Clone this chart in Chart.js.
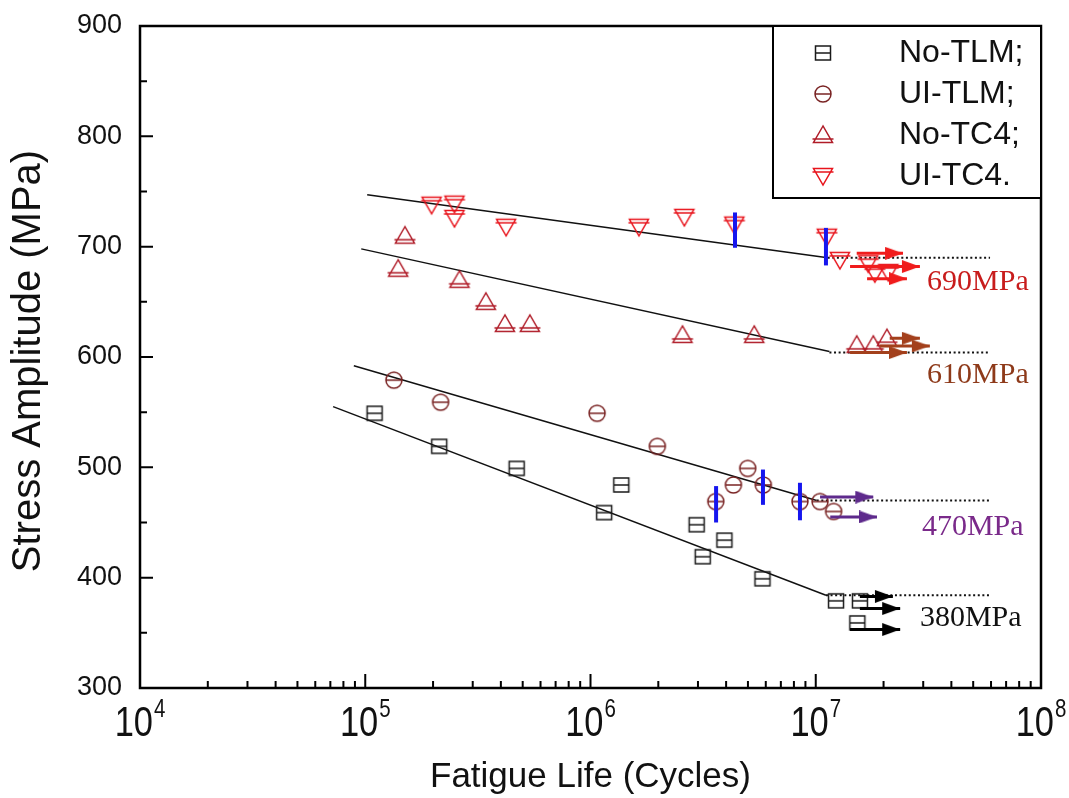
<!DOCTYPE html>
<html>
<head>
<meta charset="utf-8">
<script src="https://cdn.jsdelivr.net/npm/chart.js@4/dist/chart.umd.min.js"></script>
<style>
  html, body { margin: 0; padding: 0; background: #fff; }
  canvas { display: block; }
</style>
</head>
<body>
<canvas id="snChart" width="1069" height="798"></canvas>
<script>
// S-N data (life in cycles, stress amplitude in MPa)
const seriesNames = ['No-TLM;', 'UI-TLM;', 'No-TC4;', 'UI-TC4.'];

const noTlmLife   = [1.1e5, 2.13e5, 4.7e5, 1.15e6, 1.37e6, 2.96e6, 3.15e6, 3.93e6, 5.8e6, 1.23e7, 1.57e7, 1.53e7];
const noTlmStress = [549, 519, 499, 459, 484, 448, 419, 434, 399, 379, 379, 359];

const uiTlmLife   = [1.34e5, 2.16e5, 1.07e6, 1.98e6, 3.6e6, 4.31e6, 4.99e6, 5.85e6, 8.51e6, 1.045e7, 1.2e7];
const uiTlmStress = [579, 559, 549, 519, 469, 484, 499, 484, 469, 469, 460];

const noTc4Life   = [1.5e5, 1.4e5, 2.62e5, 3.43e5, 4.17e5, 5.38e5, 2.56e6, 5.33e6, 1.52e7, 1.8e7, 2.07e7];
const noTc4Stress = [710, 680, 670, 650, 630, 630, 620, 620, 611, 611, 617];

const uiTc4Life   = [1.97e5, 2.49e5, 2.49e5, 4.22e5, 1.64e6, 2.61e6, 4.35e6, 1.12e7, 1.28e7, 1.71e7, 1.83e7, 2.1e7];
const uiTc4Stress = [738, 739, 726, 718, 718, 727, 720, 709, 688, 685, 676, 677];

// fitted lines: [startLife, startStress, endLife, endStress]
const fitNoTlm = [7.2e4, 555, 1.11e7, 384];
const fitUiTlm = [8.9e4, 592, 1.01e7, 470];
const fitNoTc4 = [9.6e4, 698, 1.15e7, 605];
const fitUiTc4 = [1.02e5, 747, 1.13e7, 690];

// fatigue limit extensions (dotted): [fromLife, toLife, stress]
const limitLines = [[1.11e7, 5.94e7, 384], [1.01e7, 5.94e7, 470], [1.15e7, 5.94e7, 604], [1.13e7, 5.94e7, 690]];

// run-out arrows: [fromLife, toLife, stress]
const arrows690 = [[1.52e7, 2.44e7, 694], [1.42e7, 2.9e7, 682], [1.69e7, 2.54e7, 671]];
const arrows610 = [[2.13e7, 2.9e7, 617], [1.93e7, 3.21e7, 610], [1.42e7, 2.54e7, 604]];
const arrows470 = [[1.045e7, 1.8e7, 473], [1.16e7, 1.87e7, 455]];
const arrows380 = [[1.57e7, 2.2e7, 383], [1.57e7, 2.37e7, 372], [1.42e7, 2.37e7, 353]];

// blue marks: [life, lowStress, highStress]
const blueBars = [[4.38e6, 699, 731], [1.11e7, 683, 717], [3.61e6, 450, 483], [5.83e6, 466, 498], [8.51e6, 452, 486]];

const limitLabels = ['690MPa', '610MPa', '470MPa', '380MPa'];
const limitLabelLife = [3.12e7, 3.12e7, 2.96e7, 2.9e7];
const limitLabelStress = [668, 584, 446, 363];

const xTickExps = [4, 5, 6, 7, 8];
const yMajor = [300, 400, 500, 600, 700, 800, 900];
const yMinor = [350, 450, 550, 650, 750, 850];

const SANS = '"Liberation Sans", Arial, sans-serif';
const SERIF = '"Liberation Serif", "Times New Roman", serif';

function makeMarker(kind, color) {
  const c = document.createElement('canvas');
  c.width = 24; c.height = 24;
  const g = c.getContext('2d');
  g.strokeStyle = color;
  g.lineWidth = 1.5;
  g.beginPath();
  if (kind === 'square') {
    g.rect(4.5, 5, 15, 14);
    g.moveTo(4.5, 12); g.lineTo(19.5, 12);
  } else if (kind === 'circle') {
    g.arc(12, 12, 8, 0, Math.PI * 2);
    g.moveTo(4, 12); g.lineTo(20, 12);
  } else if (kind === 'up') {
    g.moveTo(12, 3); g.lineTo(2.5, 19.5); g.lineTo(21.5, 19.5); g.closePath();
    g.moveTo(1.5, 16); g.lineTo(22.5, 16);
  } else {
    g.moveTo(2.5, 4.5); g.lineTo(21.5, 4.5); g.lineTo(12, 21); g.closePath();
    g.moveTo(1.5, 8); g.lineTo(22.5, 8);
  }
  g.stroke();
  return c;
}

function makeHead(color) {
  // tip sits at the canvas centre so it lands on the data point
  const c = document.createElement('canvas');
  c.width = 38; c.height = 13;
  const g = c.getContext('2d');
  g.fillStyle = color;
  g.beginPath();
  g.moveTo(1, 0); g.lineTo(19, 6.5); g.lineTo(1, 13); g.closePath();
  g.fill();
  return c;
}

const markerColors = ['#1a1a1a', '#7a2424', '#b01c28', '#e8141c'];
const markers = [
  makeMarker('square', markerColors[0]),
  makeMarker('circle', markerColors[1]),
  makeMarker('up', markerColors[2]),
  makeMarker('down', markerColors[3])
];

function pts(xs, ys) {
  return xs.map((x, i) => ({ x, y: ys[i] }));
}

const datasets = [];

blueBars.forEach(b => {
  datasets.push({
    data: [{ x: b[0], y: b[1] }, { x: b[0], y: b[2] }],
    showLine: true, borderColor: '#1616ee', borderWidth: 4,
    pointRadius: 0, order: 0
  });
});

function addArrows(list, color) {
  const head = makeHead(color);
  list.forEach(a => {
    datasets.push({
      data: [{ x: a[0], y: a[2] }, { x: a[1], y: a[2] }],
      showLine: true, borderColor: color, borderWidth: 3,
      pointStyle: head, pointRadius: [0, 2], order: 1
    });
  });
}
addArrows(arrows690, '#f01c1c');
addArrows(arrows610, '#a3401c');
addArrows(arrows470, '#5e2a8c');
addArrows(arrows380, '#000000');

[[noTlmLife, noTlmStress], [uiTlmLife, uiTlmStress], [noTc4Life, noTc4Stress], [uiTc4Life, uiTc4Stress]]
  .forEach((s, i) => {
    datasets.push({
      label: seriesNames[i],
      data: pts(s[0], s[1]),
      pointStyle: markers[i], pointRadius: 8, showLine: false, order: 2
    });
  });

limitLines.forEach(l => {
  datasets.push({
    data: [{ x: l[0], y: l[2] }, { x: l[1], y: l[2] }],
    showLine: true, borderColor: '#111', borderWidth: 2, borderDash: [2, 2.6],
    pointRadius: 0, order: 3
  });
});

[fitNoTlm, fitUiTlm, fitNoTc4, fitUiTc4].forEach(f => {
  datasets.push({
    data: [{ x: f[0], y: f[1] }, { x: f[2], y: f[3] }],
    showLine: true, borderColor: '#111', borderWidth: 1.5,
    pointRadius: 0, order: 4
  });
});

const decorPlugin = {
  id: 'decor',
  afterDatasetsDraw(chart) {
    const { ctx, chartArea: a, scales } = chart;
    const xs = scales.x, ys = scales.y;
    ctx.save();

    // frame
    ctx.strokeStyle = '#000';
    ctx.lineWidth = 2.5;
    ctx.strokeRect(a.left, a.top, a.right - a.left, a.bottom - a.top);

    // inward ticks
    ctx.lineWidth = 2;
    ctx.beginPath();
    yMajor.forEach(v => { const y = ys.getPixelForValue(v); ctx.moveTo(a.left, y); ctx.lineTo(a.left + 13, y); });
    yMinor.forEach(v => { const y = ys.getPixelForValue(v); ctx.moveTo(a.left, y); ctx.lineTo(a.left + 7, y); });
    xTickExps.forEach(e => {
      const x = xs.getPixelForValue(Math.pow(10, e));
      ctx.moveTo(x, a.bottom); ctx.lineTo(x, a.bottom - 14);
      if (e < 8) {
        for (let k = 2; k <= 9; k++) {
          const xm = xs.getPixelForValue(k * Math.pow(10, e));
          ctx.moveTo(xm, a.bottom); ctx.lineTo(xm, a.bottom - 7);
        }
      }
    });
    ctx.stroke();

    // x tick labels 10^n
    ctx.fillStyle = '#111';
    ctx.textBaseline = 'alphabetic';
    ctx.textAlign = 'left';
    const sx = 0.82;
    xTickExps.forEach(e => {
      const x = xs.getPixelForValue(Math.pow(10, e));
      ctx.font = '42px ' + SANS;
      const w10 = ctx.measureText('10').width * sx;
      ctx.font = '25px ' + SANS;
      const wE = ctx.measureText(String(e)).width * sx;
      const start = x - (w10 + 1 + wE) / 2;
      ctx.save();
      ctx.translate(start, 736); ctx.scale(sx, 1);
      ctx.font = '42px ' + SANS;
      ctx.fillText('10', 0, 0);
      ctx.restore();
      ctx.save();
      ctx.translate(start + w10 + 1, 717); ctx.scale(sx, 1);
      ctx.font = '25px ' + SANS;
      ctx.fillText(String(e), 0, 0);
      ctx.restore();
    });

    // axis titles
    ctx.textAlign = 'center';
    ctx.textBaseline = 'middle';
    ctx.font = '35px ' + SANS;
    ctx.fillText('Fatigue Life (Cycles)', (a.left + a.right) / 2, 777);
    ctx.save();
    ctx.translate(29, 361);
    ctx.rotate(-Math.PI / 2);
    ctx.font = '40px ' + SANS;
    ctx.fillText('Stress Amplitude (MPa)', 0, 0);
    ctx.restore();

    // fatigue limit labels
    const labelColors = ['#c81c1c', '#8e3a1a', '#7a2a8a', '#111'];
    ctx.textAlign = 'left';
    ctx.font = '30px ' + SERIF;
    limitLabels.forEach((t, i) => {
      ctx.fillStyle = labelColors[i];
      ctx.fillText(t, xs.getPixelForValue(limitLabelLife[i]), ys.getPixelForValue(limitLabelStress[i]));
    });

    // legend box in the upper right corner
    const lx = 773, ly = a.top, lw = a.right - 773, lh = 172;
    ctx.fillStyle = '#fff';
    ctx.fillRect(lx, ly, lw, lh);
    ctx.strokeStyle = '#000';
    ctx.lineWidth = 2;
    ctx.strokeRect(lx, ly, lw, lh);
    ctx.font = '32px ' + SANS;
    ctx.fillStyle = '#111';
    seriesNames.forEach((n, i) => {
      const y = ly + 27 + i * 41;
      ctx.drawImage(markers[i], 823 - 12, y - 12);
      ctx.fillText(n, 899, y);
    });

    ctx.restore();
  }
};

new Chart(document.getElementById('snChart'), {
  type: 'scatter',
  data: { datasets },
  options: {
    responsive: false,
    animation: false,
    events: [],
    layout: { padding: { top: 26, right: 28, left: 0, bottom: 0 } },
    plugins: { legend: { display: false }, tooltip: { enabled: false } },
    scales: {
      x: {
        type: 'logarithmic', min: 1e4, max: 1e8,
        grid: { display: false, drawTicks: false },
        border: { display: false },
        ticks: { display: false },
        afterFit: s => { s.height = 110; s.paddingLeft = 0; s.paddingRight = 0; }
      },
      y: {
        min: 300, max: 900,
        grid: { display: false, drawTicks: false },
        border: { display: false },
        ticks: { stepSize: 100, padding: 18, color: '#111', font: { family: SANS, size: 27 } },
        afterFit: s => { s.width = 140; s.paddingTop = 0; s.paddingBottom = 0; }
      }
    }
  },
  plugins: [decorPlugin]
});
</script>
</body>
</html>
